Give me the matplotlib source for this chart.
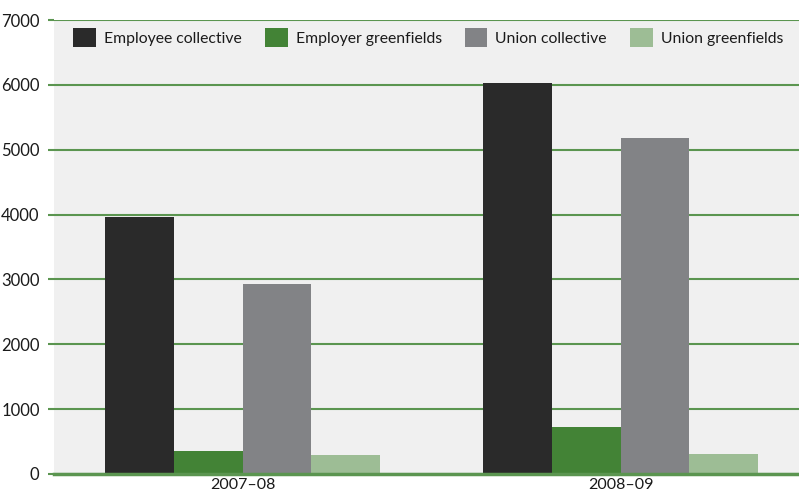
import matplotlib
matplotlib.use("Agg")
import matplotlib.pyplot as plt
import numpy as np

plt.rcParams['font.family'] = ['Lato', 'DejaVu Sans']

years = ["2007–08", "2008–09"]
series_names = ["Employee collective", "Employer greenfields", "Union collective", "Union greenfields"]
employee_collective = [3960, 6030]
employer_greenfields = [355, 725]
union_collective = [2930, 5180]
union_greenfields = [293, 308]
yticks = [0, 1000, 2000, 3000, 4000, 5000, 6000, 7000]

colors = ["#2a2a2a", "#438336", "#828386", "#9dbd95"]
grid_green = "#5b9550"

fig = plt.figure(figsize=(7.99, 4.96), dpi=100)
ax = fig.add_axes([53.5 / 799, 22 / 496, 756 / 799, 454 / 496])
ax.set_facecolor("#f0f0f0")

x = np.arange(len(years))
w = 0.1825
values = [employee_collective, employer_greenfields, union_collective, union_greenfields]
for i, (name, vals, c) in enumerate(zip(series_names, values, colors)):
    ax.bar(x + (i - 1.5) * w, vals, width=w, color=c, label=name, zorder=3)

ax.set_xlim(-0.5, 1.5)
ax.set_ylim(0, 7000)
ax.set_yticks(yticks)
ax.set_yticklabels([str(v) for v in yticks])
ax.set_xticks(x)
ax.set_xticklabels(years)
ax.yaxis.grid(True, color=grid_green, linewidth=1.5, zorder=1)
ax.set_axisbelow(True)

for s in ["top", "right", "left"]:
    ax.spines[s].set_visible(False)
ax.spines["bottom"].set_color(grid_green)
ax.spines["bottom"].set_linewidth(2.5)
ax.spines["bottom"].set_zorder(4)

ax.tick_params(axis="y", length=4, width=1.5, color=grid_green, pad=6, labelsize=12, labelcolor="#1a1a1a")
ax.tick_params(axis="x", length=0, pad=3, labelsize=11.5, labelcolor="#1a1a1a")

leg = ax.legend(loc="upper left", bbox_to_anchor=(0.0258, 0.982), ncol=4, frameon=False,
                fontsize=11.3, handlelength=1.46, handleheight=1.46, handletextpad=0.51,
                columnspacing=1.46, borderaxespad=0, borderpad=0)
for t in leg.get_texts():
    t.set_color("#1a1a1a")

fig.savefig("out.png", dpi=100)
